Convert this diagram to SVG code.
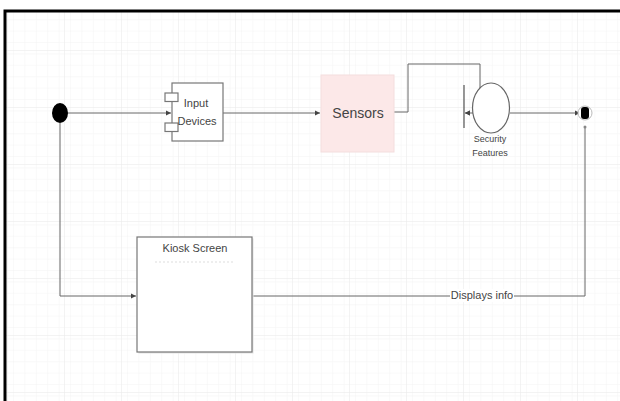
<svg xmlns="http://www.w3.org/2000/svg" width="620" height="401" viewBox="0 0 620 401">
<style>
.ln{fill:none;stroke:#666;stroke-width:1}
.box{fill:#fff;stroke:#777;stroke-width:1.2}
.t{font-family:"Liberation Sans",Arial,sans-serif;fill:#444;text-anchor:middle}
</style>
<defs>
<pattern id="minor" width="11.4" height="11.4" patternUnits="userSpaceOnUse" x="7" y="50">
<path d="M11.4 0V11.4M0 11.4H11.4" fill="none" stroke="#f4f4f4" stroke-width="1"/>
</pattern>
<pattern id="major" width="57" height="57" patternUnits="userSpaceOnUse" x="7" y="50">
<rect width="57" height="57" fill="url(#minor)"/>
<path d="M0 0V57M0 0H57" fill="none" stroke="#e8e8e8" stroke-width="1"/>
</pattern>
<marker id="arr" markerWidth="6" markerHeight="6" refX="5" refY="3" orient="auto" markerUnits="userSpaceOnUse">
<path d="M0,0.5 L5,3 L0,5.5 Z" fill="#444"/>
</marker>
</defs>
<rect width="620" height="401" fill="#fff"/>
<rect x="5" y="11" width="620" height="400" fill="url(#major)"/>
<path d="M5,405 V11 H625" fill="none" stroke="#000" stroke-width="3"/>

<g id="connectors">
<path class="ln" d="M68,113 H171" marker-end="url(#arr)"/>
<path class="ln" d="M223,113 H320" marker-end="url(#arr)"/>
<path class="ln" d="M394,112 H408 V64 H480 V86"/>
<path class="ln" d="M480,86 V113 H465" marker-end="url(#arr)"/>
<path class="ln" d="M510,113 H580" marker-end="url(#arr)"/>
<path class="ln" d="M60,123 V296 H136" marker-end="url(#arr)"/>
<path class="ln" d="M585,127 V296 H252"/>
<rect x="450" y="289" width="64" height="13" fill="#fff"/>
<text class="t" x="482" y="299" font-size="11">Displays info</text>
</g>

<g id="start">
<ellipse cx="60" cy="113" rx="8" ry="10" fill="#000"/>
</g>

<g id="input-devices">
<rect class="box" x="172" y="83" width="51" height="58"/>
<rect class="box" x="165" y="93" width="13" height="8.5"/>
<rect class="box" x="165" y="123" width="13" height="8.5"/>
<text class="t" x="196" y="107" font-size="11">Input</text>
<text class="t" x="197" y="125" font-size="11">Devices</text>
</g>

<g id="sensors">
<rect x="321" y="75" width="73" height="77" fill="#fce8e8" stroke="#f4dede" stroke-width="1"/>
<text class="t" x="358" y="118" font-size="14">Sensors</text>
</g>

<g id="security-features">
<line x1="464" y1="85" x2="464" y2="128" stroke="#555" stroke-width="1.2"/>
<ellipse cx="491" cy="108" rx="18.5" ry="25" fill="#fff" stroke="#666" stroke-width="1.2"/>
<path d="M470,110.5 L465,113 L470,115.5 Z" fill="#444"/>
<text class="t" x="490" y="142" font-size="9">Security</text>
<text class="t" x="490" y="156" font-size="9">Features</text>
</g>

<g id="end">
<circle cx="585" cy="113" r="7" fill="#fff" stroke="#bbb" stroke-width="1"/>
<rect x="581" y="107" width="8" height="12" rx="3" fill="#000"/>
<circle cx="585" cy="127" r="1.5" fill="#888"/>
</g>

<g id="kiosk-screen">
<rect x="138.5" y="238.5" width="115" height="115" fill="#e4e4e4"/>
<rect class="box" x="137" y="237" width="115" height="115"/>
<text class="t" x="195" y="252" font-size="11">Kiosk Screen</text>
<line x1="155" y1="262" x2="235" y2="262" stroke="#ddd" stroke-width="1" stroke-dasharray="2,2"/>
</g>
</svg>
